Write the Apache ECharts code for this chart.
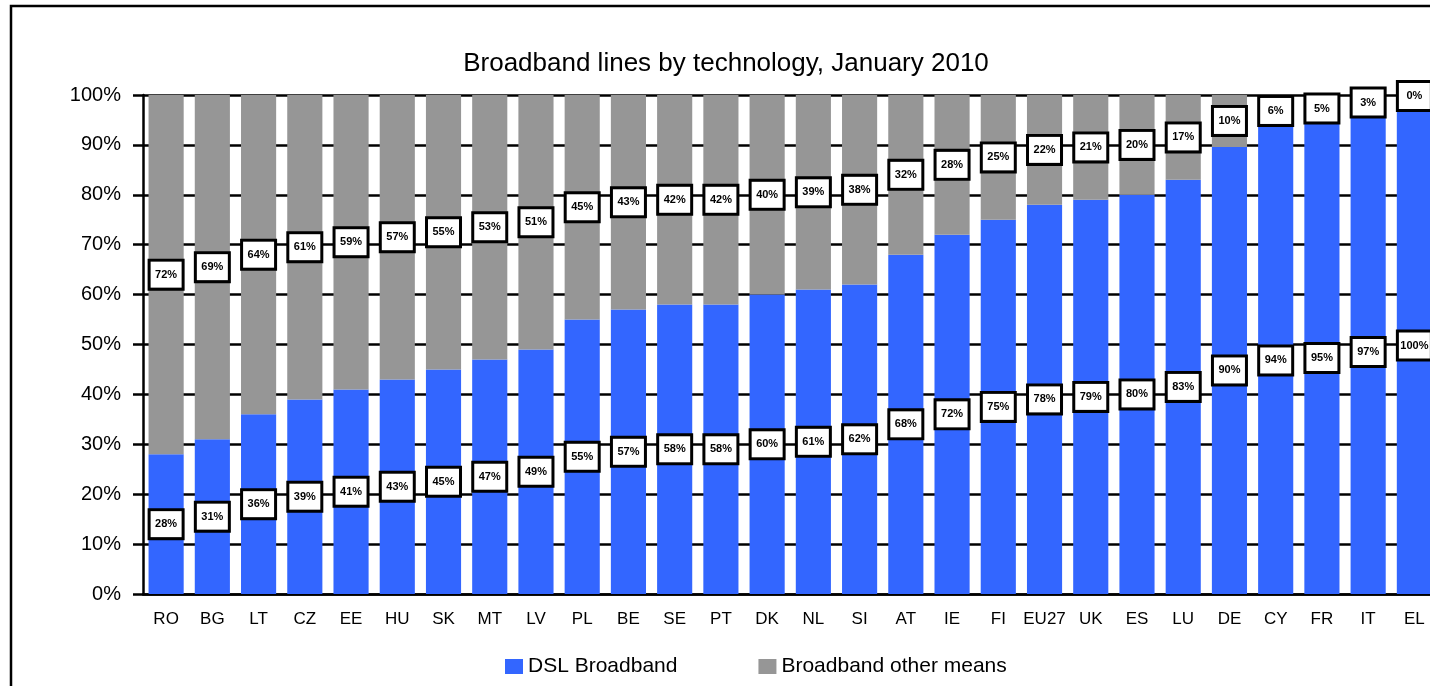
<!DOCTYPE html>
<html>
<head>
<meta charset="utf-8">
<title>Broadband lines by technology</title>
<script src="https://cdn.jsdelivr.net/npm/echarts@6/dist/echarts.min.js"></script>
<style>
  html, body { margin: 0; padding: 0; background: #fff; overflow: hidden; }
  /* the original is cropped on the right, so the chart is a little wider than the window */
  #myChart { width: 1440px; height: 686px; }
</style>
</head>
<body>
<div id="myChart"></div>
<script>
  // countries, sorted by DSL share
  var countries = ['RO', 'BG', 'LT', 'CZ', 'EE', 'HU', 'SK', 'MT', 'LV', 'PL', 'BE', 'SE', 'PT', 'DK',
    'NL', 'SI', 'AT', 'IE', 'FI', 'EU27', 'UK', 'ES', 'LU', 'DE', 'CY', 'FR', 'IT', 'EL'];
  // share of lines (%)
  var dslShare = [28, 31, 36, 39, 41, 43, 45, 47, 49, 55, 57, 58, 58, 60,
    61, 62, 68, 72, 75, 78, 79, 80, 83, 89.6, 93.6, 94.6, 97, 99.6];
  var otherShare = [72, 69, 64, 61, 59, 57, 55, 53, 51, 45, 43, 42, 42, 40,
    39, 38, 32, 28, 25, 22, 21, 20, 17, 10.4, 6.4, 5.4, 3, 0.4];
  var yTicks = [0, 10, 20, 30, 40, 50, 60, 70, 80, 90, 100];
  var seriesNames = ['DSL Broadband', 'Broadband other means'];

  var font = '"Liberation Sans", Arial, sans-serif';

  var boxLabel = {
    show: true,
    position: 'inside',
    formatter: function (p) { return Math.round(p.value) + '%'; },
    color: '#000',
    fontFamily: font,
    fontSize: 11,
    fontWeight: 'bold',
    backgroundColor: '#fff',
    borderColor: '#000',
    borderWidth: 3,
    width: 31,
    height: 26,
    lineHeight: 26,
    align: 'center'
  };

  var myChart = echarts.init(document.getElementById('myChart'));
  myChart.setOption({
    animation: false,
    backgroundColor: '#fff',
    // outer frame (right and bottom edges are cut off in the original)
    graphic: [
      {
        type: 'rect',
        shape: { x: 11, y: 6, width: 1600, height: 900 },
        style: { fill: null, stroke: '#000', lineWidth: 2.5 }
      }
    ],
    title: {
      text: 'Broadband lines by technology, January 2010',
      left: 721,
      top: 46,
      textAlign: 'center',
      textStyle: { fontFamily: font, fontSize: 26, fontWeight: 'normal', color: '#000' }
    },
    legend: {
      data: seriesNames,
      left: 500,
      top: 651,
      icon: 'rect',
      itemWidth: 18,
      itemHeight: 15,
      itemGap: 81,
      textStyle: { fontFamily: font, fontSize: 21, color: '#000' }
    },
    grid: { left: 143, top: 95, right: 2.5, height: 499 },
    xAxis: {
      type: 'category',
      data: countries,
      axisLine: { lineStyle: { color: '#000', width: 2.5 } },
      axisTick: { length: 7, lineStyle: { color: '#000', width: 2.5 } },
      axisLabel: { interval: 0, margin: 17, color: '#000', fontFamily: font, fontSize: 17 }
    },
    yAxis: {
      type: 'value',
      min: yTicks[0],
      max: yTicks[yTicks.length - 1],
      interval: 10,
      axisLine: { show: true, lineStyle: { color: '#000', width: 2.5 } },
      axisTick: { show: true, length: 10, lineStyle: { color: '#000', width: 2.5 } },
      axisLabel: { formatter: '{value}%', margin: 22, color: '#000', fontFamily: font, fontSize: 20 },
      splitLine: { lineStyle: { color: '#000', width: 2.5 } }
    },
    series: [
      {
        name: seriesNames[0],
        type: 'bar',
        stack: 'total',
        barWidth: '76%',
        itemStyle: { color: '#3366FF' },
        label: boxLabel,
        data: dslShare
      },
      {
        name: seriesNames[1],
        type: 'bar',
        stack: 'total',
        barWidth: '76%',
        itemStyle: { color: '#969696' },
        label: boxLabel,
        data: otherShare
      }
    ]
  });
</script>
</body>
</html>
